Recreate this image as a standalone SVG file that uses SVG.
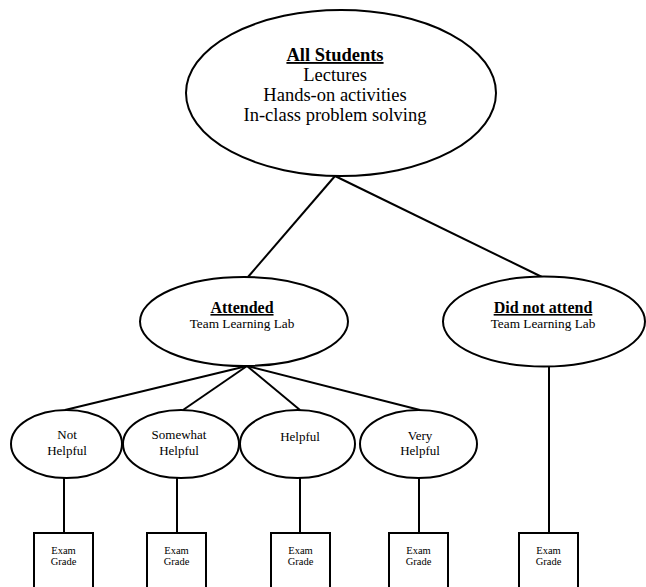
<svg xmlns="http://www.w3.org/2000/svg" width="646" height="587" viewBox="0 0 646 587">
<style>
.s{fill:#fff;stroke:#000;stroke-width:2}
.c line{stroke:#000;stroke-width:2}
text{font-family:"Liberation Serif","Times New Roman",serif;fill:#000;text-anchor:middle}
.b{font-weight:bold;text-decoration:underline}
.t18{font-size:18.5px}
.t16{font-size:16px}
.t13{font-size:13.3px}
.t11{font-size:13px}
.t9{font-size:10.5px}
</style>
<rect width="646" height="587" fill="#fff"/>
<g class="c" id="connectors">
<line x1="335" y1="176" x2="248" y2="277"/>
<line x1="335" y1="176" x2="542" y2="277"/>
<line x1="247" y1="366" x2="65" y2="410"/>
<line x1="247" y1="366" x2="183" y2="410"/>
<line x1="247" y1="366" x2="300" y2="410"/>
<line x1="247" y1="366" x2="420" y2="410"/>
<line x1="64" y1="478" x2="64" y2="533"/>
<line x1="177" y1="478" x2="177" y2="533"/>
<line x1="300" y1="478" x2="300" y2="533"/>
<line x1="419" y1="478" x2="419" y2="533"/>
<line x1="549" y1="366" x2="549" y2="533"/>
</g>
<g id="all">
<ellipse class="s" cx="341" cy="93" rx="155" ry="83"/>
<text class="t18 b" x="335" y="61">All Students</text>
<text class="t18" x="335" y="81">Lectures</text>
<text class="t18" x="335" y="101">Hands-on activities</text>
<text class="t18" x="335" y="121">In-class problem solving</text>
</g>
<g id="attended">
<ellipse class="s" cx="244" cy="321.5" rx="104" ry="44.5"/>
<text class="t16 b" x="242" y="313">Attended</text>
<text class="t13" x="242" y="328">Team Learning Lab</text>
</g>
<g id="notattend">
<ellipse class="s" cx="544" cy="321.5" rx="101" ry="45"/>
<text class="t16 b" x="543" y="313">Did not attend</text>
<text class="t13" x="543" y="328">Team Learning Lab</text>
</g>
<g id="nothelpful">
<ellipse class="s" cx="66.5" cy="444" rx="55.5" ry="34"/>
<text class="t11" x="67" y="439">Not</text>
<text class="t11" x="67" y="455">Helpful</text>
</g>
<g id="somewhat">
<ellipse class="s" cx="181" cy="444" rx="58" ry="34"/>
<text class="t11" x="179" y="439">Somewhat</text>
<text class="t11" x="179" y="455">Helpful</text>
</g>
<g id="helpful">
<ellipse class="s" cx="297.5" cy="444" rx="57.5" ry="34"/>
<text class="t11" x="300" y="441">Helpful</text>
</g>
<g id="veryhelpful">
<ellipse class="s" cx="418.5" cy="444" rx="58.5" ry="34"/>
<text class="t11" x="420" y="440">Very</text>
<text class="t11" x="420" y="455">Helpful</text>
</g>
<g id="exam1">
<rect class="s" x="34" y="533" width="59" height="60"/>
<text class="t9" x="63.5" y="554">Exam</text>
<text class="t9" x="63.5" y="565">Grade</text>
</g>
<g id="exam2">
<rect class="s" x="147" y="533" width="59" height="60"/>
<text class="t9" x="176.5" y="554">Exam</text>
<text class="t9" x="176.5" y="565">Grade</text>
</g>
<g id="exam3">
<rect class="s" x="271" y="533" width="59" height="60"/>
<text class="t9" x="300.5" y="554">Exam</text>
<text class="t9" x="300.5" y="565">Grade</text>
</g>
<g id="exam4">
<rect class="s" x="389" y="533" width="59" height="60"/>
<text class="t9" x="418.5" y="554">Exam</text>
<text class="t9" x="418.5" y="565">Grade</text>
</g>
<g id="exam5">
<rect class="s" x="519" y="533" width="59" height="60"/>
<text class="t9" x="548.5" y="554">Exam</text>
<text class="t9" x="548.5" y="565">Grade</text>
</g>
</svg>
